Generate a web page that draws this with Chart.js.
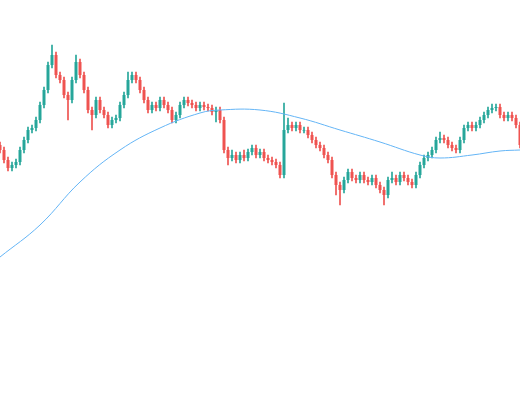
<!DOCTYPE html>
<html><head><meta charset="utf-8">
<script src="https://cdn.jsdelivr.net/npm/chart.js@4/dist/chart.umd.min.js"></script>
<style>html,body{margin:0;padding:0;background:#fff}#w{width:520px;height:400px}</style>
</head><body><div id="w"><canvas id="c"></canvas></div>
<script>
const opens=[145,150,160,168,165,162,150,140,130,128,120,105,90,65,55,75,80,95,100,80,62,75,90,110,115,100,110,115,125,120,118,105,95,80,75,80,90,100,110,105,108,100,105,110,120,115,105,100,103,105,108,105,107,108,112,110,120,150,158,155,160,155,158,152,148,155,152,158,160,162,165,175,130,125,128,125,130,130,135,140,145,148,155,160,175,185,190,180,172,178,180,175,180,182,178,185,190,195,180,178,182,175,178,182,185,175,165,158,155,150,140,138,140,145,148,150,140,128,125,128,125,120,115,110,108,107,115,118,115,118,125];
const closes=[150,160,168,165,162,150,140,130,128,120,105,90,65,55,75,80,95,100,80,62,75,90,110,115,100,110,115,125,120,118,105,95,80,75,80,90,100,110,105,108,100,105,110,120,115,105,100,103,105,108,105,107,108,112,110,120,150,158,155,160,155,158,152,148,155,152,158,160,162,165,175,130,125,128,125,130,130,135,140,145,148,155,160,175,185,190,180,172,178,180,175,180,182,178,185,190,195,180,178,182,175,178,182,185,175,165,158,155,150,140,138,140,145,148,150,140,128,125,128,125,120,115,110,108,107,115,118,115,118,125,145];
const highs=[142,147,157,162,159,147,137,127,125,117,102,87,62,45,52,72,77,92,77,55,59,72,87,107,97,97,107,112,117,115,102,92,72,72,72,77,87,97,102,102,97,97,102,107,112,102,97,97,100,102,102,102,104,105,107,107,117,147,150,152,152,150,149,145,145,149,149,155,157,159,162,103,118,122,122,122,127,127,132,137,142,145,152,157,172,182,177,169,169,175,172,172,177,175,175,182,187,177,172,175,172,172,175,179,172,162,155,152,147,137,132,135,137,142,145,137,125,122,122,122,117,112,107,104,104,104,112,112,112,115,122];
const lows=[153,163,171,171,168,165,153,143,133,131,123,108,93,68,78,83,98,120,103,83,78,93,113,130,118,113,118,128,128,123,121,108,98,83,83,93,103,113,113,111,111,108,113,123,123,118,108,106,108,111,111,110,111,115,122,123,153,165,161,163,163,161,161,155,158,158,161,163,165,168,178,178,133,131,131,133,133,138,143,148,151,158,163,178,195,205,193,183,181,183,183,183,185,185,188,193,205,198,183,185,185,181,185,188,188,178,168,161,158,153,143,143,148,151,153,153,143,131,131,131,128,123,118,113,111,118,121,121,121,128,148];
const maIdx=[0,10,20,30,40,50,55,65,75,85,95,105,110,118,125,130];
const maVal=[257,225,182,150,128,113,110,110,118,130,142,155,158,155,151,150];
const labels=closes.map((_,i)=>i);
const ma=labels.map(()=>null); maIdx.forEach((k,j)=>ma[k]=maVal[j]);
const col=closes.map((c,i)=>c<=opens[i]?'#26a69a':'#ef5350');
new Chart(document.getElementById('c'),{type:'bar',data:{labels,datasets:[
{type:'line',data:ma,borderColor:'#64b5f6',borderWidth:1,pointRadius:0,tension:0.4,spanGaps:true,order:0},
{data:labels.map(i=>[opens[i],closes[i]===opens[i]?closes[i]+0.6:closes[i]]),backgroundColor:col,grouped:false,barPercentage:0.75,categoryPercentage:1,order:1},
{data:labels.map(i=>[lows[i],highs[i]]),backgroundColor:col,grouped:false,barThickness:1,order:2}
]},options:{responsive:true,maintainAspectRatio:false,animation:false,layout:{padding:0},
plugins:{legend:{display:false},tooltip:{enabled:false}},
scales:{x:{display:false,offset:false},y:{display:false,reverse:true,min:0,max:400}}}});
</script></body></html>
